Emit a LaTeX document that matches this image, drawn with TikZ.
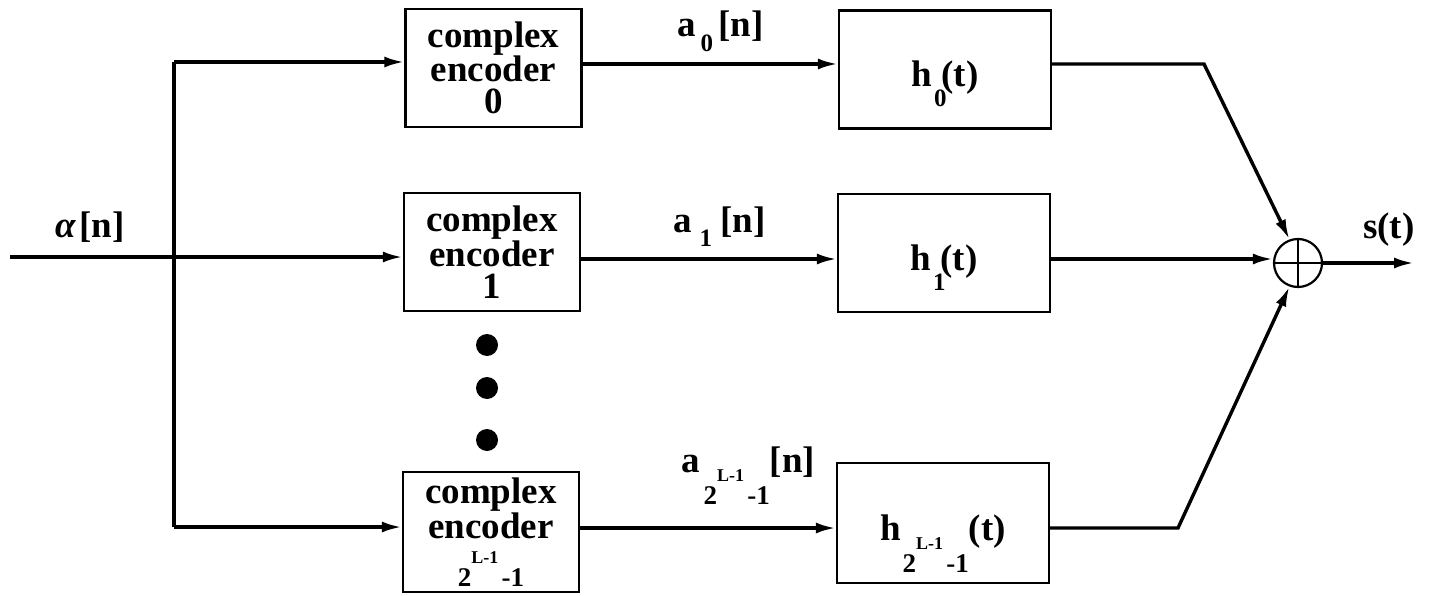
\documentclass[tikz,border=0pt]{standalone}
\usepackage{fontspec}
\setmainfont{Liberation Serif}
\newfontfamily\serifx{Liberation Serif}
\usetikzlibrary{arrows.meta}
\newcommand\lowsub[2][-0.55em]{\raisebox{#1}{\fontsize{25}{25}\selectfont #2}}
\newcommand\tpow{\mbox{\fontsize{27}{27}\selectfont 2\raisebox{0.85em}{\fontsize{18}{18}\selectfont L-1}\hspace{0.12em}-1}}
\tikzset{
  txt/.style={font=\serifx\bfseries\fontsize{37}{32}\selectfont},
  wire/.style={line width=3.4pt, -{Latex[length=20pt,width=11pt]}},
  bare/.style={line width=3.4pt},
  encbox/.style={draw, line width=2.2pt, inner sep=0pt, minimum width=176pt, minimum height=118pt, align=center, txt},
  hbox/.style={draw, line width=2.2pt, inner sep=0pt, minimum width=212pt, minimum height=118pt, text height=42pt, text depth=8pt, txt},
  dotnode/.style={circle, fill=black, minimum size=22pt, inner sep=0pt},
  lbl/.style={txt, anchor=base west, inner sep=0pt}
}
\begin{document}
\begin{tikzpicture}[x=1pt,y=-1pt]
\useasboundingbox (0,0) rectangle (1431,596);
% boxes
\node[encbox] (e0) at (493.5,68) {complex\\encoder\\0};
\node[encbox] (e1) at (492,252) {complex\\encoder\\1};
\node[encbox, minimum height=120pt] (eL) at (491,532) {complex\\encoder\\[12pt]\tpow};
\node[hbox] (h0) at (945,69.5) {h\hspace{2pt}\lowsub{0}\hspace{-5pt}(t)};
\node[hbox] (h1) at (944,253) {h\hspace{2pt}\lowsub{1}\hspace{-5pt}(t)};
\node[hbox, minimum height=120pt] (hL) at (943,523) {h\hspace{2pt}\raisebox{-32pt}{\tpow}(t)};
\node[dotnode] (d1) at (487,345) {};
\node[dotnode] (d2) at (487,388) {};
\node[dotnode] (d3) at (487,440) {};
\node[circle, draw, line width=2.2pt, minimum size=48pt, inner sep=0pt] (sum) at (1298,263) {};
\draw[line width=2.2pt] (sum.north) -- (sum.south) (sum.west) -- (sum.east);
% coordinates
\coordinate (in) at (10,257);
\coordinate (bt) at (174,62);
\coordinate (bb) at (174,527);
\coordinate (r0) at (0,64);
\coordinate (r1) at (0,259);
\coordinate (rL) at (0,528);
\coordinate (k0) at (1204,64);
\coordinate (kL) at (1178,528);
\coordinate (out) at (1414,0);
% wires
\draw[wire] (in) -- (in -| e1.west);
\draw[bare] (bt) -- (bb);
\draw[wire] (bt) -- (bt -| e0.west);
\draw[wire] (bb) -- (bb -| eL.west);
\draw[wire] (e0.east |- r0) -- (h0.west |- r0);
\draw[wire] (e1.east |- r1) -- (h1.west |- r1);
\draw[wire] (eL.east |- rL) -- (hL.west |- rL);
\draw[wire] (h0.east |- r0) -- (k0) -- (sum.110);
\draw[wire] (h1.east |- r1) -- (sum.west |- r1);
\draw[wire] (hL.east |- rL) -- (kL) -- (sum.250);
\draw[wire] (sum.east) -- (sum.east -| out);
% labels
\node[lbl] (la) at (55,237) {\textit{α}\hspace{3pt}[n]};
\node[lbl] (l0) at (677,37) {a\hspace{5pt}\lowsub[-0.4em]{0}\hspace{5pt}[n]};
\node[lbl] (l1) at (673,232) {a\hspace{8pt}\lowsub[-0.4em]{1}\hspace{8pt}[n]};
\node[lbl] (lL) at (681,472) {a\hspace{4pt}\raisebox{-0.87em}{\tpow}[n]};
\node[lbl] (ls) at (1363,238) {s(t)};
\end{tikzpicture}
\end{document}
